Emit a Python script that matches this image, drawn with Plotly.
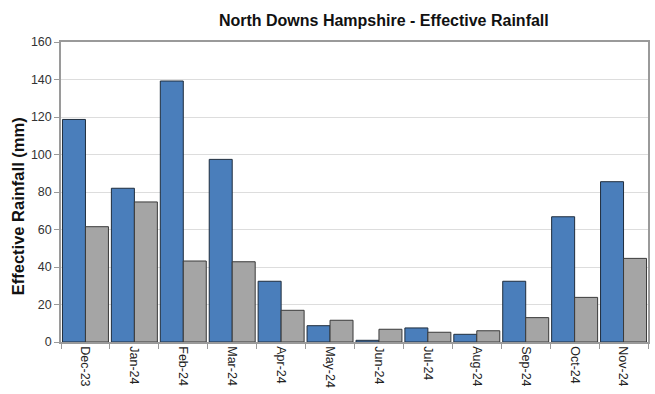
import plotly.graph_objects as go

months = ["Dec-23", "Jan-24", "Feb-24", "Mar-24", "Apr-24", "May-24",
          "Jun-24", "Jul-24", "Aug-24", "Sep-24", "Oct-24", "Nov-24"]
rainfall_actual = [118.7, 82.0, 139.2, 97.4, 32.4, 8.7, 0.9, 7.5, 4.1, 32.4, 66.8, 85.5]
rainfall_average = [61.5, 74.7, 43.2, 42.8, 16.9, 11.6, 6.8, 5.2, 6.0, 13.0, 23.8, 44.6]
y_ticks = [0, 20, 40, 60, 80, 100, 120, 140, 160]

fig = go.Figure()
fig.add_trace(go.Bar(x=months, y=rainfall_actual, name="Effective rainfall",
                     marker=dict(color="#4a7ebb", line=dict(color="#1f2d3d", width=1))))
fig.add_trace(go.Bar(x=months, y=rainfall_average, name="Long term average",
                     marker=dict(color="#a5a5a5", line=dict(color="#3a3a3a", width=1))))

fig.update_layout(
    width=655, height=394,
    margin=dict(l=61, r=5, t=42, b=52),
    paper_bgcolor="white", plot_bgcolor="white",
    barmode="group", bargap=0.06, bargroupgap=0,
    showlegend=False,
    font=dict(family="Liberation Sans, Arial, sans-serif", color="#333333"),
    title=dict(text="<b>North Downs Hampshire - Effective Rainfall</b>",
               x=0.586, xanchor="center", y=0.948, yanchor="middle",
               font=dict(size=16, color="#111111")),
)
# vertical axis title, placed as an annotation so it can sit slightly below centre
fig.add_annotation(
    text="<b>Effective Rainfall (mm)</b>", textangle=-90,
    xref="paper", yref="paper", x=-0.073, y=0.453,
    xanchor="center", yanchor="middle", showarrow=False,
    font=dict(size=16.5, color="#111111"),
)
fig.update_xaxes(
    tickangle=90, tickfont=dict(size=12.5, color="#222222"),
    showline=True, linecolor="#9a9a9a", linewidth=1.5, mirror=True,
    ticks="outside", ticklen=5, tickcolor="#9a9a9a", tickson="boundaries",
    showgrid=False,
)
fig.update_yaxes(
    range=[0, 160], tickvals=y_ticks, tickfont=dict(size=12.5, color="#333333"),
    showline=True, linecolor="#9a9a9a", linewidth=1.5, mirror=True,
    ticks="outside", ticklen=5, tickcolor="#9a9a9a",
    showgrid=True, gridcolor="#dddddd", gridwidth=1, zeroline=False,
)

fig.write_html("out.html")
